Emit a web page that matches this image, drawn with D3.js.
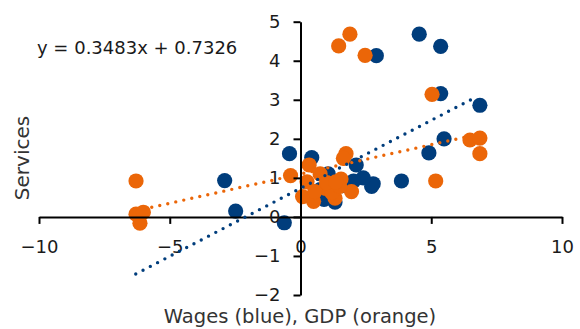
<!DOCTYPE html>
<html>
<head>
<meta charset="utf-8">
<script src="https://cdn.jsdelivr.net/npm/d3@7"></script>
<style>
  html, body { margin: 0; padding: 0; background: #fff; }
  svg { display: block; font-family: "DejaVu Sans", sans-serif; }
</style>
</head>
<body>
<svg id="chart" width="580" height="329"></svg>
<script>
// Services growth against wage growth (blue) and GDP growth (orange)
const wagesX    = [4.54, 5.36, 2.90, 5.36, 6.86, 5.49, 4.91, -0.42, 0.43, -2.90, -2.48, -0.62, 3.86, 2.13, 2.78, 2.72, 2.40, 2.03, 1.06, 1.32, 0.90, 0.75, 1.20, 1.60];
const wagesY    = [4.68, 4.37, 4.13, 3.16, 2.86, 2.00, 1.64, 1.62, 1.52, 0.93, 0.15, -0.15, 0.92, 1.33, 0.85, 0.78, 1.00, 0.92, 1.10, 0.38, 0.45, 0.70, 0.60, 0.80];
const gdpX      = [1.46, 1.89, 2.47, 5.03, 6.48, 6.86, 6.86, 5.17, -6.29, -6.29, -6.01, -6.14, -0.38, 0.33, 1.74, 1.64, 0.25, 0.75, 1.55, 1.95, 1.32, 0.50, 0.08, 0.96, 1.20, 1.50, 0.55, 1.00, 1.35];
const gdpY      = [4.38, 4.68, 4.14, 3.14, 1.97, 2.02, 1.62, 0.92, 0.92, 0.07, 0.12, -0.16, 1.06, 1.33, 1.62, 1.50, 0.90, 1.10, 0.97, 0.65, 0.48, 0.40, 0.52, 0.73, 0.62, 0.78, 0.65, 0.88, 0.90];

// Linear trendlines: slope, intercept and x extent
const wagesTrend = { slope: 0.3483, intercept: 0.7326, from: -6.3, to: 6.6 };
const gdpTrend   = { slope: 0.15,   intercept: 1.10,   from: -6.3, to: 6.86 };

const xTicks = [-10, -5, 0, 5, 10];
const yTicks = [-2, -1, 0, 1, 2, 3, 4, 5];

const BLUE = "#003d7c";
const ORANGE = "#eb6608";

const svg = d3.select("#chart");
const x = d3.scaleLinear().domain([-10, 10]).range([39, 562]);
const y = d3.scaleLinear().domain([-2, 5]).range([295, 21.7]);

const wages = wagesX.map((v, i) => [v, wagesY[i]]);
const gdp = gdpX.map((v, i) => [v, gdpY[i]]);

function trendPoints(t) {
  return [t.from, t.to].map(v => [v, t.slope * v + t.intercept]);
}
const line = d3.line().x(d => x(d[0])).y(d => y(d[1]));

function drawTrend(t, color) {
  svg.append("path")
    .attr("d", line(trendPoints(t)))
    .attr("fill", "none")
    .attr("stroke", color)
    .attr("stroke-width", 3.4)
    .attr("stroke-linecap", "round")
    .attr("stroke-dasharray", "0 8.2");
}

function drawDots(data, color) {
  svg.append("g").selectAll("circle").data(data).join("circle")
    .attr("cx", d => x(d[0]))
    .attr("cy", d => y(d[1]))
    .attr("r", 7.6)
    .attr("fill", color);
}

drawDots(wages, BLUE);
drawTrend(gdpTrend, ORANGE);
drawDots(gdp, ORANGE);

// Axes cross at the origin
const fmt = d3.format("d");
const xAxis = d3.axisBottom(x).tickValues(xTicks).tickFormat(fmt).tickSize(7).tickSizeOuter(0).tickPadding(16);
const yAxis = d3.axisLeft(y).tickValues(yTicks).tickFormat(fmt).tickSize(7).tickSizeOuter(0).tickPadding(13);

const gx = svg.append("g").attr("transform", `translate(0,${y(0)})`).call(xAxis);
const gy = svg.append("g").attr("transform", `translate(${x(0)},0)`).call(yAxis);
[gx, gy].forEach(g => {
  g.select(".domain").attr("stroke", "#000").attr("stroke-width", 2);
  g.selectAll(".tick line").attr("stroke", "#000").attr("stroke-width", 2);
  g.selectAll(".tick text").attr("fill", "#1a1a1a").style("font-size", "18px")
    .style("font-family", "'DejaVu Sans', sans-serif");
});

drawTrend(wagesTrend, BLUE);

// Trendline equation
svg.append("text")
  .attr("x", 37).attr("y", 54)
  .attr("fill", "#1a1a1a")
  .style("font-size", "18px")
  .text(`y = ${wagesTrend.slope}x + ${wagesTrend.intercept}`);

// Axis titles
svg.append("text")
  .attr("x", 300).attr("y", 323)
  .attr("text-anchor", "middle")
  .attr("fill", "#333")
  .style("font-size", "19.5px")
  .text("Wages (blue), GDP (orange)");

svg.append("text")
  .attr("transform", "translate(29,158) rotate(-90)")
  .attr("text-anchor", "middle")
  .attr("fill", "#333")
  .style("font-size", "20px")
  .text("Services");
</script>
</body>
</html>
